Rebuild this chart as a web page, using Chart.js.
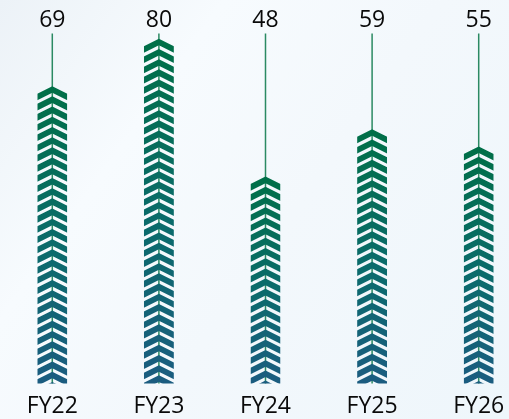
<!DOCTYPE html>
<html>
<head>
<meta charset="utf-8">
<script src="https://cdn.jsdelivr.net/npm/chart.js@4"></script>
<style>
  html, body { margin: 0; padding: 0; }
  body {
    width: 509px; height: 419px; overflow: hidden; position: relative;
    background: linear-gradient(125deg, #ecf2f7 0%, #f7fbfe 28%, #f3f8fc 55%, #eef6fb 100%);
  }
  #wrap { position: absolute; left: -1px; top: 0; width: 533px; height: 429px; }
</style>
</head>
<body>
<div id="wrap"><canvas id="chart"></canvas></div>
<script>
// Fiscal years and their values
const categories = ['FY22', 'FY23', 'FY24', 'FY25', 'FY26'];
const values = [69, 80, 48, 59, 55];

const FONT = '"Open Sans", "Noto Sans", sans-serif';
const TOP_GREEN = '#006f47';
const MID_TEAL = '#0b6b6c';
const BOTTOM_BLUE = '#1b5c80';
const LEADER = '#2b8a63';

// Chevron stack geometry
const PERIOD = 10.2;
const THICK = 6.6;
const SLOPE = 0.5;

function drawChevronBar(ctx, cx, top, base, w) {
  const grad = ctx.createLinearGradient(0, top, 0, base);
  grad.addColorStop(0, TOP_GREEN);
  grad.addColorStop(0.55, MID_TEAL);
  grad.addColorStop(1, BOTTOM_BLUE);
  const half = w / 2;
  const drop = half * SLOPE;
  ctx.save();
  ctx.beginPath();
  ctx.rect(cx - half, top - 1, w, base - top + 1);
  ctx.clip();
  ctx.fillStyle = grad;
  for (let yA = top; yA < base; yA += PERIOD) {
    ctx.beginPath();
    ctx.moveTo(cx, yA);
    ctx.lineTo(cx + half, yA + drop);
    ctx.lineTo(cx + half, yA + drop + THICK);
    ctx.lineTo(cx, yA + THICK);
    ctx.lineTo(cx - half, yA + drop + THICK);
    ctx.lineTo(cx - half, yA + drop);
    ctx.closePath();
    ctx.fill();
  }
  ctx.restore();
}

// Draws leader lines, chevron bars and value labels from the bar elements
const chevronPlugin = {
  id: 'chevronBars',
  afterDatasetsDraw(chart) {
    const ctx = chart.ctx;
    const meta = chart.getDatasetMeta(0);
    meta.data.forEach((bar, i) => {
      const p = bar.getProps(['x', 'y', 'base', 'width'], true);
      // leader line from the label down to the base
      ctx.save();
      ctx.strokeStyle = LEADER;
      ctx.lineWidth = 1.5;
      ctx.beginPath();
      ctx.moveTo(p.x, 33.5);
      ctx.lineTo(p.x, p.base);
      ctx.stroke();
      ctx.restore();

      drawChevronBar(ctx, p.x, p.y, p.base, p.width);

      ctx.save();
      ctx.fillStyle = '#0a0a0a';
      ctx.font = '23px ' + FONT;
      ctx.textAlign = 'center';
      ctx.textBaseline = 'middle';
      ctx.fillText(String(values[i]), p.x, 20);
      ctx.restore();
    });
  }
};

new Chart(document.getElementById('chart'), {
  type: 'bar',
  data: {
    labels: categories,
    datasets: [{
      data: values,
      backgroundColor: 'rgba(0,0,0,0)',
      borderWidth: 0,
      barThickness: 30
    }]
  },
  options: {
    responsive: true,
    maintainAspectRatio: false,
    animation: false,
    layout: { padding: { top: 0, bottom: 0, left: 0, right: 0 } },
    plugins: {
      legend: { display: false },
      tooltip: { enabled: false }
    },
    scales: {
      x: {
        grid: { display: false, drawTicks: false },
        border: { display: false },
        ticks: {
          color: '#0a0a0a',
          padding: 9,
          font: { family: FONT, size: 23 }
        }
      },
      y: {
        display: false,
        min: 0,
        max: 89
      }
    }
  },
  plugins: [chevronPlugin]
});
</script>
</body>
</html>
